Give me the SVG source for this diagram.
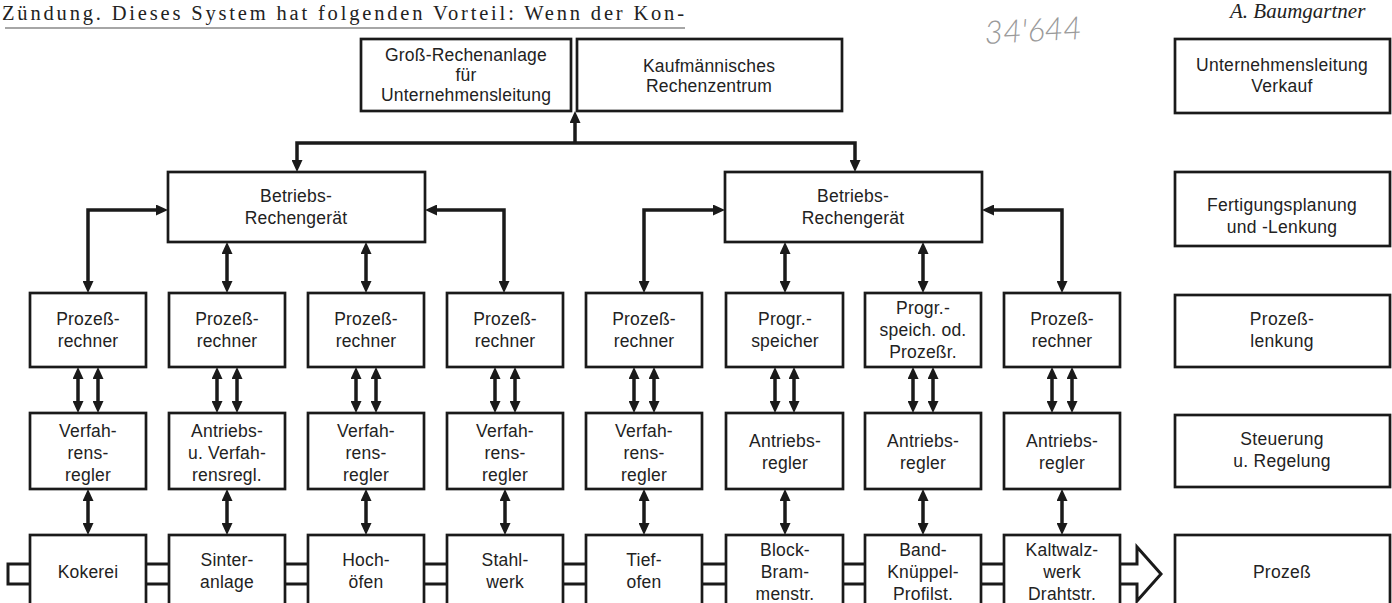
<svg xmlns="http://www.w3.org/2000/svg" width="1392" height="603" viewBox="0 0 1392 603">
<style>
.box{fill:#fff;stroke:#1a1a1a;stroke-width:2.7}
.t{font-family:"Liberation Sans",Arial,sans-serif;font-size:17.5px;fill:#222;text-anchor:middle;letter-spacing:0.2px}
.tr{font-family:"Liberation Sans",Arial,sans-serif;font-size:17.5px;fill:#222;text-anchor:middle;letter-spacing:0.3px}
.c{fill:none;stroke:#1a1a1a;stroke-width:3.5}
.p{fill:none;stroke:#1a1a1a;stroke-width:3}
</style>
<defs>
<marker id="ah" viewBox="0 0 12 11" refX="4" refY="5.5" markerWidth="12" markerHeight="11" markerUnits="userSpaceOnUse" orient="auto-start-reverse">
<path d="M0,0 L12,5.5 L0,11 z" fill="#1a1a1a"/>
</marker>
</defs>
<rect width="1392" height="603" fill="#fff"/>
<g id="header">
<text x="2" y="20" font-family="Liberation Serif,serif" font-size="20.5" fill="#222" textLength="682" lengthAdjust="spacing">Zündung. Dieses System hat folgenden Vorteil: Wenn der Kon-</text>
<line x1="5" y1="28" x2="685" y2="28" stroke="#888" stroke-width="1.5"/>
<text x="1230" y="18" font-family="Liberation Serif,serif" font-size="21" font-style="italic" fill="#222">A. Baumgartner</text>
<text x="985" y="44" font-family="Lato,sans-serif" font-weight="300" font-size="32" font-style="italic" fill="#9a9a9a" transform="rotate(-3 985 44)">34'644</text>
</g>
<g id="connectors">
<line class="c" x1="575" y1="143" x2="575" y2="119" marker-end="url(#ah)"/>
<path class="c" d="M297,164 V143 H855 V164" marker-start="url(#ah)" marker-end="url(#ah)"/>
<path class="c" d="M88,285 V210 H160" marker-start="url(#ah)" marker-end="url(#ah)"/>
<path class="c" d="M433,210 H504 V285" marker-start="url(#ah)" marker-end="url(#ah)"/>
<line class="c" x1="227" y1="250" x2="227" y2="285" marker-start="url(#ah)" marker-end="url(#ah)"/>
<line class="c" x1="366" y1="250" x2="366" y2="285" marker-start="url(#ah)" marker-end="url(#ah)"/>
<path class="c" d="M644,285 V210 H717" marker-start="url(#ah)" marker-end="url(#ah)"/>
<path class="c" d="M990,210 H1062 V285" marker-start="url(#ah)" marker-end="url(#ah)"/>
<line class="c" x1="785" y1="250" x2="785" y2="285" marker-start="url(#ah)" marker-end="url(#ah)"/>
<line class="c" x1="923" y1="250" x2="923" y2="285" marker-start="url(#ah)" marker-end="url(#ah)"/>
<g id="dbl">
<line class="c" x1="78" y1="375" x2="78" y2="405" marker-start="url(#ah)" marker-end="url(#ah)"/>
<line class="c" x1="98" y1="375" x2="98" y2="405" marker-start="url(#ah)" marker-end="url(#ah)"/>
<line class="c" x1="217" y1="375" x2="217" y2="405" marker-start="url(#ah)" marker-end="url(#ah)"/>
<line class="c" x1="237" y1="375" x2="237" y2="405" marker-start="url(#ah)" marker-end="url(#ah)"/>
<line class="c" x1="356" y1="375" x2="356" y2="405" marker-start="url(#ah)" marker-end="url(#ah)"/>
<line class="c" x1="376" y1="375" x2="376" y2="405" marker-start="url(#ah)" marker-end="url(#ah)"/>
<line class="c" x1="495" y1="375" x2="495" y2="405" marker-start="url(#ah)" marker-end="url(#ah)"/>
<line class="c" x1="515" y1="375" x2="515" y2="405" marker-start="url(#ah)" marker-end="url(#ah)"/>
<line class="c" x1="634" y1="375" x2="634" y2="405" marker-start="url(#ah)" marker-end="url(#ah)"/>
<line class="c" x1="654" y1="375" x2="654" y2="405" marker-start="url(#ah)" marker-end="url(#ah)"/>
<line class="c" x1="775" y1="375" x2="775" y2="405" marker-start="url(#ah)" marker-end="url(#ah)"/>
<line class="c" x1="794" y1="375" x2="794" y2="405" marker-start="url(#ah)" marker-end="url(#ah)"/>
<line class="c" x1="913" y1="375" x2="913" y2="405" marker-start="url(#ah)" marker-end="url(#ah)"/>
<line class="c" x1="933" y1="375" x2="933" y2="405" marker-start="url(#ah)" marker-end="url(#ah)"/>
<line class="c" x1="1052" y1="375" x2="1052" y2="405" marker-start="url(#ah)" marker-end="url(#ah)"/>
<line class="c" x1="1072" y1="375" x2="1072" y2="405" marker-start="url(#ah)" marker-end="url(#ah)"/>
</g>
<g id="single">
<line class="c" x1="88" y1="497" x2="88" y2="527" marker-start="url(#ah)" marker-end="url(#ah)"/>
<line class="c" x1="227" y1="497" x2="227" y2="527" marker-start="url(#ah)" marker-end="url(#ah)"/>
<line class="c" x1="366" y1="497" x2="366" y2="527" marker-start="url(#ah)" marker-end="url(#ah)"/>
<line class="c" x1="505" y1="497" x2="505" y2="527" marker-start="url(#ah)" marker-end="url(#ah)"/>
<line class="c" x1="644" y1="497" x2="644" y2="527" marker-start="url(#ah)" marker-end="url(#ah)"/>
<line class="c" x1="785" y1="497" x2="785" y2="527" marker-start="url(#ah)" marker-end="url(#ah)"/>
<line class="c" x1="923" y1="497" x2="923" y2="527" marker-start="url(#ah)" marker-end="url(#ah)"/>
<line class="c" x1="1062" y1="497" x2="1062" y2="527" marker-start="url(#ah)" marker-end="url(#ah)"/>
</g>
<g id="pipes">
<path class="p" d="M31,564 H8 V584 H31"/>
<path class="p" d="M146,564 H169 M146,584 H169"/>
<path class="p" d="M285,564 H308 M285,584 H308"/>
<path class="p" d="M424,564 H447 M424,584 H447"/>
<path class="p" d="M563,564 H586 M563,584 H586"/>
<path class="p" d="M702,564 H726 M702,584 H726"/>
<path class="p" d="M843,564 H865 M843,584 H865"/>
<path class="p" d="M981,564 H1004 M981,584 H1004"/>
<path class="p" d="M1120,564 H1137 V547 L1161,574 L1137,601 V584 H1120" fill="#fff"/>
</g>
</g>
<g id="top-left"><rect class="box" x="361" y="39" width="210" height="72"/>
<text class="t"><tspan x="466" y="61">Groß-Rechenanlage</tspan><tspan x="466" y="81">für</tspan><tspan x="466" y="101">Unternehmensleitung</tspan></text></g>
<g id="top-right"><rect class="box" x="577" y="39" width="265" height="72"/>
<text class="t"><tspan x="709" y="72">Kaufmännisches</tspan><tspan x="709" y="92">Rechenzentrum</tspan></text></g>
<g id="betrieb-1"><rect class="box" x="168" y="172" width="257" height="70"/>
<text class="t"><tspan x="296" y="202">Betriebs-</tspan><tspan x="296" y="224">Rechengerät</tspan></text></g>
<g id="betrieb-2"><rect class="box" x="725" y="172" width="257" height="70"/>
<text class="t"><tspan x="853" y="202">Betriebs-</tspan><tspan x="853" y="224">Rechengerät</tspan></text></g>
<g id="r1c1"><rect class="box" x="30" y="293" width="116" height="74"/><text class="t"><tspan x="88" y="325">Prozeß-</tspan><tspan x="88" y="347">rechner</tspan></text></g>
<g id="r1c2"><rect class="box" x="169" y="293" width="116" height="74"/><text class="t"><tspan x="227" y="325">Prozeß-</tspan><tspan x="227" y="347">rechner</tspan></text></g>
<g id="r1c3"><rect class="box" x="308" y="293" width="116" height="74"/><text class="t"><tspan x="366" y="325">Prozeß-</tspan><tspan x="366" y="347">rechner</tspan></text></g>
<g id="r1c4"><rect class="box" x="447" y="293" width="116" height="74"/><text class="t"><tspan x="505" y="325">Prozeß-</tspan><tspan x="505" y="347">rechner</tspan></text></g>
<g id="r1c5"><rect class="box" x="586" y="293" width="116" height="74"/><text class="t"><tspan x="644" y="325">Prozeß-</tspan><tspan x="644" y="347">rechner</tspan></text></g>
<g id="r1c6"><rect class="box" x="726" y="293" width="117" height="74"/><text class="t"><tspan x="785" y="325">Progr.-</tspan><tspan x="785" y="347">speicher</tspan></text></g>
<g id="r1c7"><rect class="box" x="865" y="293" width="116" height="74"/><text class="t"><tspan x="923" y="314">Progr.-</tspan><tspan x="923" y="336">speich. od.</tspan><tspan x="923" y="358">Prozeßr.</tspan></text></g>
<g id="r1c8"><rect class="box" x="1004" y="293" width="116" height="74"/><text class="t"><tspan x="1062" y="325">Prozeß-</tspan><tspan x="1062" y="347">rechner</tspan></text></g>
<g id="r2c1"><rect class="box" x="30" y="413" width="116" height="76"/><text class="t"><tspan x="88" y="437">Verfah-</tspan><tspan x="88" y="459">rens-</tspan><tspan x="88" y="481">regler</tspan></text></g>
<g id="r2c2"><rect class="box" x="169" y="413" width="116" height="76"/><text class="t"><tspan x="227" y="437">Antriebs-</tspan><tspan x="227" y="459">u. Verfah-</tspan><tspan x="227" y="481">rensregl.</tspan></text></g>
<g id="r2c3"><rect class="box" x="308" y="413" width="116" height="76"/><text class="t"><tspan x="366" y="437">Verfah-</tspan><tspan x="366" y="459">rens-</tspan><tspan x="366" y="481">regler</tspan></text></g>
<g id="r2c4"><rect class="box" x="447" y="413" width="116" height="76"/><text class="t"><tspan x="505" y="437">Verfah-</tspan><tspan x="505" y="459">rens-</tspan><tspan x="505" y="481">regler</tspan></text></g>
<g id="r2c5"><rect class="box" x="586" y="413" width="116" height="76"/><text class="t"><tspan x="644" y="437">Verfah-</tspan><tspan x="644" y="459">rens-</tspan><tspan x="644" y="481">regler</tspan></text></g>
<g id="r2c6"><rect class="box" x="726" y="413" width="117" height="76"/><text class="t"><tspan x="785" y="447">Antriebs-</tspan><tspan x="785" y="469">regler</tspan></text></g>
<g id="r2c7"><rect class="box" x="865" y="413" width="116" height="76"/><text class="t"><tspan x="923" y="447">Antriebs-</tspan><tspan x="923" y="469">regler</tspan></text></g>
<g id="r2c8"><rect class="box" x="1004" y="413" width="116" height="76"/><text class="t"><tspan x="1062" y="447">Antriebs-</tspan><tspan x="1062" y="469">regler</tspan></text></g>
<g id="r3c1"><rect class="box" x="30" y="535" width="116" height="85"/><text class="t"><tspan x="88" y="578">Kokerei</tspan></text></g>
<g id="r3c2"><rect class="box" x="169" y="535" width="116" height="85"/><text class="t"><tspan x="227" y="566">Sinter-</tspan><tspan x="227" y="588">anlage</tspan></text></g>
<g id="r3c3"><rect class="box" x="308" y="535" width="116" height="85"/><text class="t"><tspan x="366" y="566">Hoch-</tspan><tspan x="366" y="588">öfen</tspan></text></g>
<g id="r3c4"><rect class="box" x="447" y="535" width="116" height="85"/><text class="t"><tspan x="505" y="566">Stahl-</tspan><tspan x="505" y="588">werk</tspan></text></g>
<g id="r3c5"><rect class="box" x="586" y="535" width="116" height="85"/><text class="t"><tspan x="644" y="566">Tief-</tspan><tspan x="644" y="588">ofen</tspan></text></g>
<g id="r3c6"><rect class="box" x="726" y="535" width="117" height="85"/><text class="t"><tspan x="785" y="556">Block-</tspan><tspan x="785" y="578">Bram-</tspan><tspan x="785" y="600">menstr.</tspan></text></g>
<g id="r3c7"><rect class="box" x="865" y="535" width="116" height="85"/><text class="t"><tspan x="923" y="556">Band-</tspan><tspan x="923" y="578">Knüppel-</tspan><tspan x="923" y="600">Profilst.</tspan></text></g>
<g id="r3c8"><rect class="box" x="1004" y="535" width="116" height="85"/><text class="t"><tspan x="1062" y="556">Kaltwalz-</tspan><tspan x="1062" y="578">werk</tspan><tspan x="1062" y="600">Drahtstr.</tspan></text></g>
<g id="lvl1"><rect class="box" x="1175" y="39" width="215" height="74"/><text class="tr"><tspan x="1282" y="71">Unternehmensleitung</tspan><tspan x="1282" y="92">Verkauf</tspan></text></g>
<g id="lvl2"><rect class="box" x="1175" y="172" width="215" height="74"/><text class="tr"><tspan x="1282" y="211">Fertigungsplanung</tspan><tspan x="1282" y="233">und -Lenkung</tspan></text></g>
<g id="lvl3"><rect class="box" x="1175" y="295" width="215" height="72"/><text class="tr"><tspan x="1282" y="325">Prozeß-</tspan><tspan x="1282" y="347">lenkung</tspan></text></g>
<g id="lvl4"><rect class="box" x="1175" y="415" width="215" height="72"/><text class="tr"><tspan x="1282" y="445">Steuerung</tspan><tspan x="1282" y="467">u. Regelung</tspan></text></g>
<g id="lvl5"><rect class="box" x="1175" y="535" width="215" height="85"/><text class="tr"><tspan x="1282" y="578">Prozeß</tspan></text></g>
</svg>
